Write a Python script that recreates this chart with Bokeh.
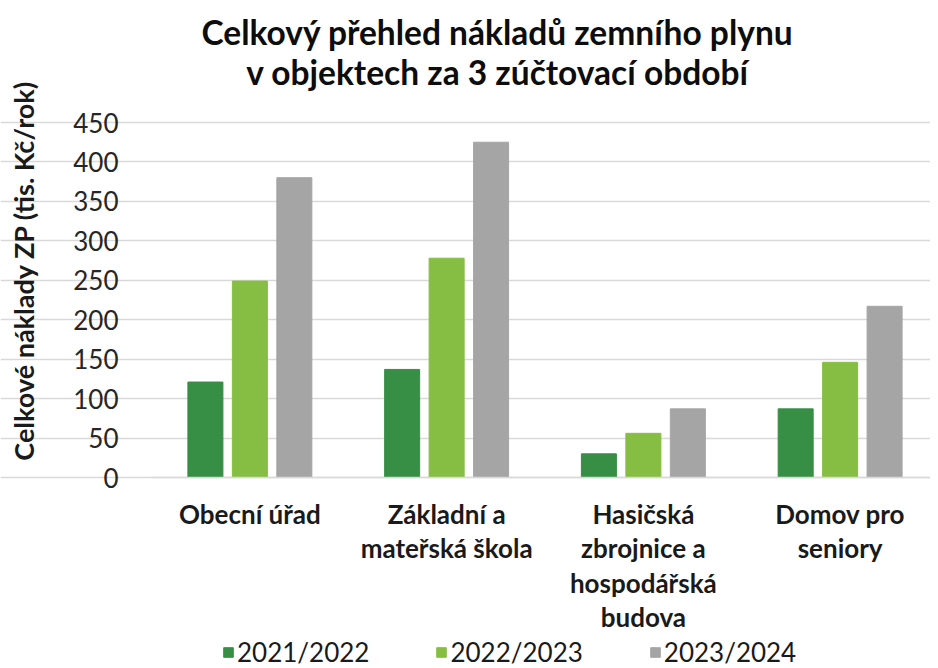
import math
import numpy as np
from bokeh.plotting import figure
from bokeh.models import (ColumnDataSource, Range1d, Label, Legend, LegendItem,
                          FixedTicker, LinearAxis, Grid)
from bokeh.embed import file_html
from bokeh.resources import INLINE

# ---- data ----
categories = ["Obecní úřad",
              "Základní a\nmateřská škola",
              "Hasičská\nzbrojnice a\nhospodářská\nbudova",
              "Domov pro\nseniory"]
series_names = ["2021/2022", "2022/2023", "2023/2024"]
v_2021_2022 = [121, 137, 30, 87]
v_2022_2023 = [249, 278, 56, 146]
v_2023_2024 = [380, 425, 87, 217]
y_ticks = [0, 50, 100, 150, 200, 250, 300, 350, 400, 450]
title_lines = ["Celkový přehled nákladů zemního plynu",
               "v objektech za 3 zúčtovací období"]
y_label = "Celkové náklady ZP (tis. Kč/rok)"
colors = ["#378E45", "#86BE43", "#A5A5A5"]

FONT = "Lato"

# ---- layout constants (canvas pixels) ----
W, H = 930, 668
PLOT_L, PLOT_R = 151, 938      # x pixels of category axis start / end
PLOT_T, PLOT_B = 122, 477      # y pixels (from top) of 450 and 0
Y_MAX = y_ticks[-1]
n = len(categories)
px_x = (PLOT_R - PLOT_L) / n
px_y = (PLOT_B - PLOT_T) / Y_MAX
x_start = -PLOT_L / px_x
x_end = n + (W - PLOT_R) / px_x
y_end = Y_MAX + PLOT_T / px_y
y_start = -(H - PLOT_B) / px_y

centers = np.arange(n) + 0.5
offsets = [-0.226, 0.0, 0.226]
bar_w = 0.178

src = ColumnDataSource(dict(xc=centers, s0=v_2021_2022, s1=v_2022_2023, s2=v_2023_2024))

p = figure(width=W, height=H, x_range=Range1d(x_start, x_end),
           y_range=Range1d(y_start, y_end),
           x_axis_type=None, y_axis_type=None,
           output_backend="svg", toolbar_location=None, min_border=0)
p.outline_line_color = None
p.background_fill_color = "white"
p.border_fill_color = "white"

# axes
yax = LinearAxis(ticker=FixedTicker(ticks=y_ticks), fixed_location=0)
yax.axis_line_color = None
yax.major_tick_line_color = None
yax.minor_tick_line_color = None
yax.major_label_text_font = FONT
yax.major_label_text_font_size = "26px"
yax.major_label_text_color = "#262626"
yax.major_label_standoff = 27
p.add_layout(yax, "left")

p.add_layout(Grid(dimension=1, ticker=yax.ticker, bounds=(0, n),
                  grid_line_color="#D9D9D9", grid_line_width=1.6))

xax = LinearAxis(ticker=FixedTicker(ticks=list(centers)), fixed_location=0, bounds=(0, n))
xax.major_label_overrides = {float(c): lab for c, lab in zip(centers, categories)}
xax.axis_line_color = "#D9D9D9"
xax.axis_line_width = 1.6
xax.major_tick_line_color = None
xax.minor_tick_line_color = None
xax.major_label_text_font = FONT
xax.major_label_text_font_size = "26px"
xax.major_label_text_font_style = "bold"
xax.major_label_text_color = "#1a1a1a"
xax.major_label_text_line_height = 1.08
xax.major_label_standoff = 14
p.add_layout(xax, "below")

# bars
renderers = []
for i, col in enumerate(["s0", "s1", "s2"]):
    src.data["x%d" % i] = centers + offsets[i]
    r = p.vbar(x="x%d" % i, top=col, width=bar_w, source=src,
               fill_color=colors[i], line_color=colors[i], line_width=1)
    renderers.append(r)

# title
for txt, base in zip(title_lines, [31, 71]):
    p.add_layout(Label(x=497, y=H - base, x_units="screen", y_units="screen", text=txt,
                       text_align="center", text_baseline="alphabetic",
                       text_font=FONT, text_font_size="33.5px", text_font_style="bold",
                       text_color="#0d0d0d"))

# y axis title
p.add_layout(Label(x=23, y=H - 270, x_units="screen", y_units="screen", text=y_label,
                   angle=math.pi / 2, text_align="center", text_baseline="middle",
                   text_font=FONT, text_font_size="27px", text_font_style="bold",
                   text_color="#1a1a1a"))

legend = Legend(items=[LegendItem(label=nm, renderers=[r]) for nm, r in zip(series_names, renderers)],
                orientation="horizontal", location=(222, 0),
                border_line_color=None, background_fill_alpha=0,
                glyph_width=12, glyph_height=12, label_standoff=3, spacing=66,
                padding=0, margin=0,
                label_text_font=FONT, label_text_font_size="26px",
                label_text_color="#1a1a1a")
p.add_layout(legend, "center")

open("out.html", "w").write(file_html(p, INLINE))
